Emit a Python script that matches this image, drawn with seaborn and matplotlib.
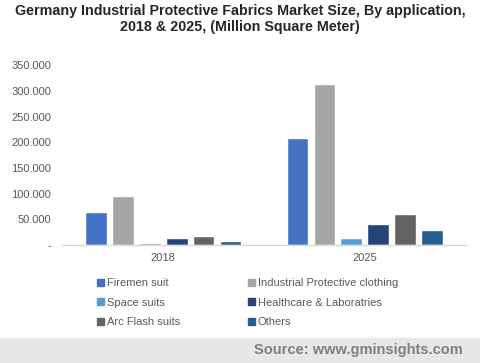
import matplotlib.pyplot as plt
import matplotlib.ticker as mticker
import pandas as pd
import seaborn as sns

years = ['2018', '2025']
applications = ['Firemen suit', 'Industrial Protective clothing', 'Space suits',
                'Healthcare & Laboratries', 'Arc Flash suits', 'Others']
values_2018 = [64, 95, 4.5, 13.5, 18, 8]
values_2025 = [208, 313, 13.5, 41, 60, 29]
colors = ['#4472C4', '#A5A5A5', '#5B9BD5', '#264478', '#636363', '#255E91']

df = pd.DataFrame({
    'year': [y for y in years for _ in applications],
    'application': applications * 2,
    'value': values_2018 + values_2025,
})

sns.set_style('white')
plt.rcParams['font.family'] = ['Liberation Sans', 'DejaVu Sans']

fig = plt.figure(figsize=(4.8, 3.63), dpi=100)
ax = fig.add_axes([0.13, 0.325, 0.84, 0.495])

sns.barplot(data=df, x='year', y='value', hue='application', hue_order=applications,
            palette=colors, width=0.8, gap=0.19, ax=ax, legend=False, saturation=1)

ax.set_ylim(0, 350)
ax.set_yticks(range(0, 351, 50))
ax.yaxis.set_major_formatter(mticker.FuncFormatter(
    lambda v, p: '-' if v == 0 else f'{int(v)}.000'))
ax.tick_params(axis='y', labelsize=8, colors='#595959', length=0, pad=8)
ax.tick_params(axis='x', labelsize=8, colors='#595959', length=0, pad=6)
ax.set_xlabel('')
ax.set_ylabel('')
for s in ['top', 'right', 'left']:
    ax.spines[s].set_visible(False)
ax.spines['bottom'].set_color('#D9D9D9')
ax.spines['bottom'].set_linewidth(1)

fig.suptitle('Germany Industrial Protective Fabrics Market Size, By application,\n'
             '2018 & 2025, (Million Square Meter)',
             fontsize=10.3, fontweight='bold', color='#262626', y=0.99, x=0.5,
             linespacing=1.25)

# legend fills column by column, so reorder to match row layout of the reference
order = [0, 2, 4, 1, 3, 5]
handles = [plt.Rectangle((0, 0), 1, 1, color=colors[i]) for i in order]
labels = [applications[i] for i in order]
fig.legend(handles, labels, ncol=2, loc='upper left',
           bbox_to_anchor=(0.202, 0.234), frameon=False, fontsize=8,
           handlelength=0.6, handleheight=0.6, handletextpad=0.3,
           columnspacing=6.1, labelspacing=0.85, labelcolor='#595959',
           borderpad=0, borderaxespad=0)

fig.patches.append(plt.Rectangle((0, 0), 1, 0.069, transform=fig.transFigure,
                                 color='#E7E7E7', zorder=0))
fig.text(0.965, 0.036, 'Source: www.gminsights.com', ha='right', va='center',
         fontsize=10.5, fontweight='bold', color='#7F7F7F')

plt.savefig('out.png', dpi=100)
